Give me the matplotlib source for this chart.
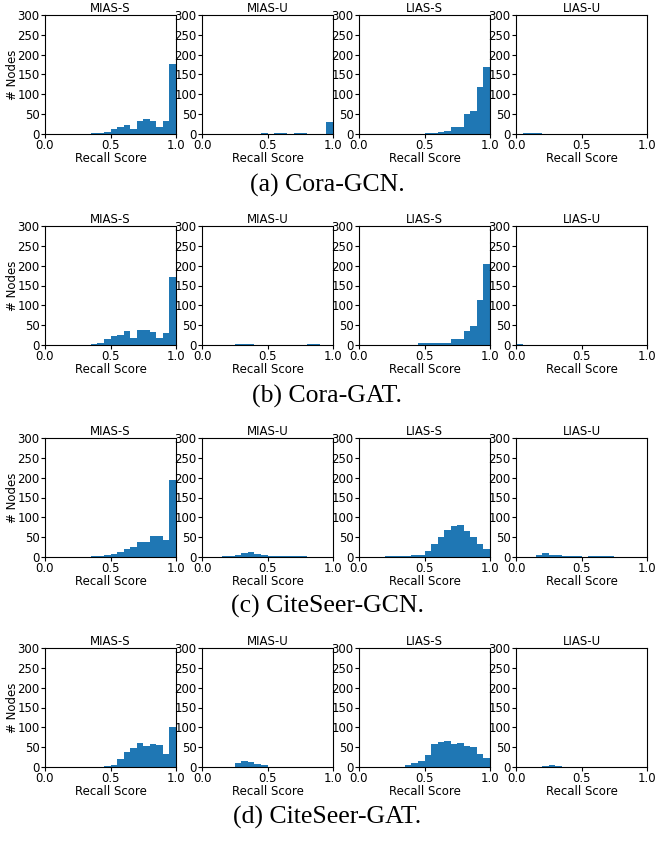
import numpy as np
from matplotlib import pyplot as plt

# 20 bins of width 0.05 over the recall score
bin_edges = np.linspace(0, 1, 21)
panel_titles = ["MIAS-S", "MIAS-U", "LIAS-S", "LIAS-U"]
captions = ["(a) Cora-GCN.", "(b) Cora-GAT.", "(c) CiteSeer-GCN.", "(d) CiteSeer-GAT."]

# counts per bin
cora_gcn_mias_s = [0, 0, 0, 0, 0, 0, 0, 2, 2, 5, 13, 18, 23, 13, 33, 38, 33, 18, 33, 177]
cora_gcn_mias_u = [0, 0, 0, 0, 0, 0, 0, 0, 0, 2, 0, 2, 2, 0, 2, 2, 0, 0, 0, 31]
cora_gcn_lias_s = [0, 0, 0, 0, 0, 0, 0, 0, 0, 0, 2, 2, 5, 8, 18, 18, 51, 58, 119, 169]
cora_gcn_lias_u = [0, 2, 2, 2, 0, 0, 0, 0, 0, 0, 0, 0, 0, 0, 0, 0, 0, 0, 0, 0]

cora_gat_mias_s = [0, 0, 0, 0, 0, 0, 1, 3, 4, 16, 23, 26, 36, 18, 38, 38, 33, 18, 31, 172]
cora_gat_mias_u = [0, 0, 0, 0, 0, 2, 2, 2, 0, 1, 0, 0, 0, 0, 1, 1, 2, 2, 0, 0]
cora_gat_lias_s = [0, 0, 0, 0, 0, 0, 0, 1, 1, 4, 4, 4, 6, 6, 14, 14, 36, 49, 114, 205]
cora_gat_lias_u = [2, 0, 0, 0, 0, 0, 0, 0, 0, 0, 0, 0, 0, 0, 0, 0, 0, 0, 0, 0]

citeseer_gcn_mias_s = [1, 1, 1, 1, 1, 1, 1, 2, 2, 4, 8, 13, 20, 25, 38, 38, 53, 53, 43, 194]
citeseer_gcn_mias_u = [1, 1, 1, 2, 2, 5, 10, 13, 8, 4, 2, 2, 2, 2, 2, 2, 1, 1, 1, 1]
citeseer_gcn_lias_s = [1, 1, 1, 1, 2, 2, 2, 2, 6, 6, 15, 33, 51, 68, 79, 81, 66, 51, 33, 20]
citeseer_gcn_lias_u = [1, 1, 1, 4, 10, 5, 5, 2, 2, 2, 1, 2, 2, 2, 2, 1, 1, 1, 1, 1]

citeseer_gat_mias_s = [0, 0, 0, 0, 0, 0, 0, 0, 0, 3, 6, 19, 39, 47, 60, 52, 57, 55, 34, 100]
citeseer_gat_mias_u = [0, 0, 0, 0, 0, 9, 14, 12, 7, 4, 0, 0, 0, 0, 0, 0, 0, 0, 0, 0]
citeseer_gat_lias_s = [0, 0, 0, 0, 0, 0, 0, 4, 9, 14, 29, 57, 62, 65, 57, 60, 52, 50, 34, 22]
citeseer_gat_lias_u = [0, 0, 0, 0, 3, 6, 3, 0, 0, 0, 0, 0, 0, 0, 0, 0, 0, 0, 0, 0]

rows = [
    [cora_gcn_mias_s, cora_gcn_mias_u, cora_gcn_lias_s, cora_gcn_lias_u],
    [cora_gat_mias_s, cora_gat_mias_u, cora_gat_lias_s, cora_gat_lias_u],
    [citeseer_gcn_mias_s, citeseer_gcn_mias_u, citeseer_gcn_lias_s, citeseer_gcn_lias_u],
    [citeseer_gat_mias_s, citeseer_gat_mias_u, citeseer_gat_lias_s, citeseer_gat_lias_u],
]

W, H = 655, 843
fig = plt.figure(figsize=(W / 100, H / 100), dpi=100)

# pixel layout of the panels
col_left = [45, 202, 359, 516]
row_top = [15, 226, 438, 648]
ax_w, ax_h = 131, 119
caption_y = [185, 396, 606, 817]

centers = (bin_edges[:-1] + bin_edges[1:]) / 2

for r, row in enumerate(rows):
    for c, counts in enumerate(row):
        ax = fig.add_axes([col_left[c] / W, 1 - (row_top[r] + ax_h) / H, ax_w / W, ax_h / H])
        ax.hist(centers, bins=bin_edges, weights=counts, color="#1f77b4")
        ax.set_xlim(0, 1)
        ax.set_ylim(0, 300)
        ax.set_xticks([0, 0.5, 1.0])
        ax.set_yticks(range(0, 301, 50))
        ax.tick_params(labelsize=8.5, length=3, pad=0.8)
        ax.set_title(panel_titles[c], fontsize=8.5, pad=2)
        ax.set_xlabel("Recall Score", fontsize=8.5, labelpad=0)
        if c == 0:
            ax.set_ylabel("# Nodes", fontsize=8.5, labelpad=-1)
    fig.text(0.5, 1 - caption_y[r] / H, captions[r], ha="center", va="center",
             family="Liberation Serif", fontsize=18.5)

fig.savefig("out.png", dpi=100)
